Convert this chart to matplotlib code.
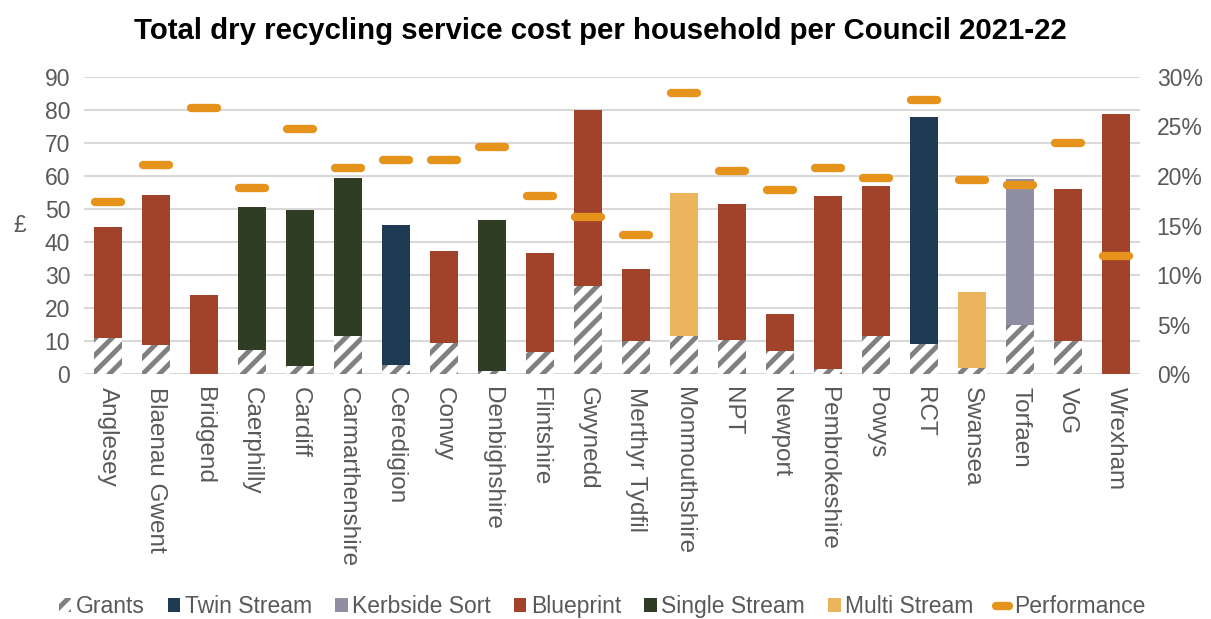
import matplotlib
matplotlib.use("Agg")
import matplotlib.pyplot as plt
import numpy as np
from matplotlib.markers import MarkerStyle
from matplotlib.patches import Patch
from matplotlib.lines import Line2D

councils = ["Anglesey", "Blaenau Gwent", "Bridgend", "Caerphilly", "Cardiff",
            "Carmarthenshire", "Ceredigion", "Conwy", "Denbighshire", "Flintshire",
            "Gwynedd", "Merthyr Tydfil", "Monmouthshire", "NPT", "Newport",
            "Pembrokeshire", "Powys", "RCT", "Swansea", "Torfaen", "VoG", "Wrexham"]
collection = ["Blueprint", "Blueprint", "Blueprint", "Single Stream", "Single Stream",
              "Single Stream", "Twin Stream", "Blueprint", "Single Stream", "Blueprint",
              "Blueprint", "Blueprint", "Multi Stream", "Blueprint", "Blueprint",
              "Blueprint", "Blueprint", "Twin Stream", "Multi Stream", "Kerbside Sort",
              "Blueprint", "Blueprint"]
grants = [11.1, 8.9, 0.0, 7.3, 2.6, 11.6, 2.9, 9.5, 1.0, 6.8,
          26.7, 10.1, 11.6, 10.4, 7.0, 1.6, 11.6, 9.2, 1.9, 14.9, 10.1, 0.0]
total_cost = [44.5, 54.2, 24.0, 50.6, 49.7, 59.4, 45.1, 37.3, 46.7, 36.7,
              79.9, 31.8, 54.8, 51.5, 18.2, 53.9, 56.9, 77.8, 24.9, 59.1, 56.0, 78.7]
performance = [17.4, 21.1, 26.9, 18.8, 24.7, 20.8, 21.6, 21.6, 22.9, 18.0,
               15.9, 14.0, 28.4, 20.5, 18.6, 20.8, 19.8, 27.7, 19.6, 19.1, 23.3, 11.9]

colors = {"Twin Stream": "#1F3A53", "Kerbside Sort": "#908EA2", "Blueprint": "#A0432A",
          "Single Stream": "#2E3D23", "Multi Stream": "#EDB45E"}
perf_color = "#E5931A"
hatch_color = "#808080"
text_color = "#595959"

plt.rcParams['font.family'] = ['Liberation Sans', 'DejaVu Sans']
plt.rcParams['hatch.linewidth'] = 3.5

fig = plt.figure(figsize=(12.11, 6.19), dpi=100)
ax = fig.add_axes([0.0694, 0.3953, 0.8720, 0.4807])
ax2 = ax.twinx()

x = np.arange(len(councils))
w = 0.58
g = np.array(grants)
rest = np.array(total_cost) - g
ax.bar(x, g, w, color="white", edgecolor=hatch_color, linewidth=0, hatch="//", zorder=2)
ax.bar(x, rest, w, bottom=g, color=[colors[c] for c in collection], linewidth=0, zorder=2)

ms = MarkerStyle("_", capstyle="round")
ax2.plot(x, performance, linestyle="none", marker=ms, markersize=19,
         markeredgewidth=6, color=perf_color, zorder=3)

ax.set_xlim(-0.5, len(councils) - 0.5)
ax.set_ylim(0, 90)
ax.set_yticks(np.arange(0, 91, 10))
ax2.set_ylim(0, 30)
ax2.set_yticks(np.arange(0, 31, 5))
ax2.set_yticklabels([f"{v}%" for v in range(0, 31, 5)])
ax.yaxis.grid(True, color="#D9D9D9", linewidth=1.5, zorder=0)
ax.set_axisbelow(True)
for a in (ax, ax2):
    for s in a.spines.values():
        s.set_visible(False)
    a.tick_params(length=0, labelsize=16.5, labelcolor=text_color)
ax.set_xticks(x)
ax.set_xticklabels(councils, rotation=270, ha="center", va="top")
ax.tick_params(axis="x", pad=9, labelsize=17.5)
ax.tick_params(axis="y", pad=10)
ax2.tick_params(axis="y", pad=12)
ax.set_ylabel("£", rotation=0, fontsize=16.5, color=text_color, labelpad=18, va="center")

fig.suptitle("Total dry recycling service cost per household per Council 2021-22",
             fontsize=21.2, fontweight="bold", y=0.973, x=0.496)

handles = [Patch(facecolor="white", hatch="//", edgecolor=hatch_color, linewidth=0, label="Grants")]
for k in ["Twin Stream", "Kerbside Sort", "Blueprint", "Single Stream", "Multi Stream"]:
    handles.append(Patch(facecolor=colors[k], label=k))
handles.append(Line2D([0], [0], color=perf_color, linewidth=6, solid_capstyle="round",
                      label="Performance"))
leg = fig.legend(handles=handles, loc="center", bbox_to_anchor=(0.497, 0.02), ncol=7,
                 frameon=False, fontsize=16.5, handlelength=0.55, handleheight=0.55,
                 handletextpad=0.2, columnspacing=1.0, labelcolor=text_color)

fig.savefig("out.png", dpi=100)
